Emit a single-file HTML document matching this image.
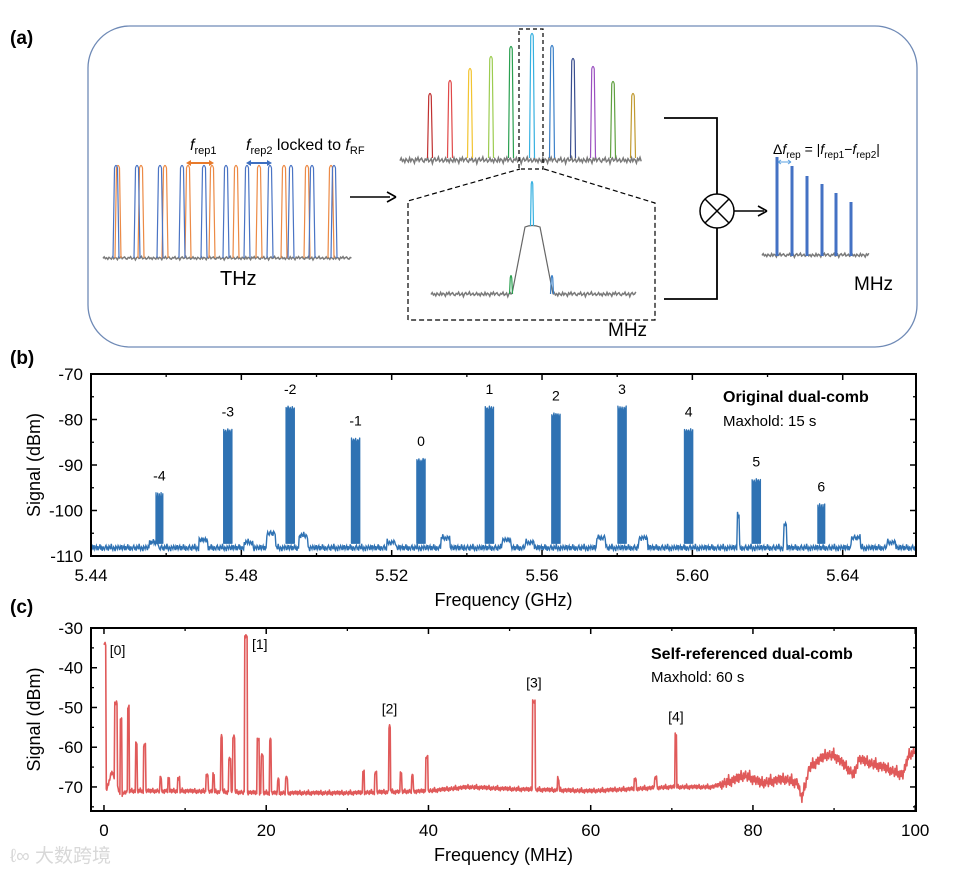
<!DOCTYPE html>
<html><head><meta charset="utf-8">
<style>
html,body{margin:0;padding:0;background:#fff;}
svg{display:block;font-family:"Liberation Sans","Noto Sans CJK SC",sans-serif;}
</style></head>
<body>
<svg id="fig" width="962" height="872" viewBox="0 0 962 872" xmlns="http://www.w3.org/2000/svg">
<text x="10" y="44" font-size="19" font-weight="bold">(a)</text>
<text x="10" y="364" font-size="19" font-weight="bold">(b)</text>
<text x="10" y="613" font-size="19" font-weight="bold">(c)</text>

<g id="pa">
<rect x="88" y="26" width="829" height="321" rx="42" ry="42" fill="none" stroke="#6f8ab6" stroke-width="1.3"/>
<g id="thz"></g>
<g id="topcomb"></g>
<g id="zoomg"></g>
<g id="outcomb"></g>
<text x="190" y="150" font-size="16"><tspan font-style="italic">f</tspan><tspan font-size="11" dy="4">rep1</tspan></text>
<text x="246" y="150" font-size="16"><tspan font-style="italic">f</tspan><tspan font-size="11" dy="4">rep2</tspan><tspan dy="-4"> locked to </tspan><tspan font-style="italic">f</tspan><tspan font-size="11" dy="4">RF</tspan></text>
<line x1="188" y1="163" x2="212" y2="163" stroke="#e87b2c" stroke-width="2"/>
<path d="M186 163 l5 -3 v6z M214 163 l-5 -3 v6z" fill="#e87b2c"/>
<line x1="248" y1="163" x2="270" y2="163" stroke="#3d6fc0" stroke-width="2"/>
<path d="M246 163 l5 -3 v6z M272 163 l-5 -3 v6z" fill="#3d6fc0"/>
<text x="220" y="285" font-size="20">THz</text>
<line x1="350" y1="197" x2="390" y2="197" stroke="#000" stroke-width="1.6"/>
<path d="M396 197 l-9 -5 M396 197 l-9 5" stroke="#000" stroke-width="1.6" fill="none"/>
<text x="608" y="336" font-size="19">MHz</text>
<path d="M664 118 H717 V194 M664 299 H717 V228" fill="none" stroke="#000" stroke-width="1.8"/>
<circle cx="717" cy="211" r="17" fill="#fff" stroke="#000" stroke-width="1.5"/>
<path d="M705 199 L729 223 M729 199 L705 223" stroke="#000" stroke-width="1.5"/>
<line x1="734" y1="211" x2="764" y2="211" stroke="#000" stroke-width="1.6"/>
<path d="M767 211 l-9 -5 M767 211 l-9 5" stroke="#000" stroke-width="1.6" fill="none"/>
<text x="773" y="154" font-size="14">Δ<tspan font-style="italic">f</tspan><tspan font-size="10" dy="4">rep</tspan><tspan dy="-4"> = |</tspan><tspan font-style="italic">f</tspan><tspan font-size="10" dy="4">rep1</tspan><tspan dy="-4">−</tspan><tspan font-style="italic">f</tspan><tspan font-size="10" dy="4">rep2</tspan><tspan dy="-4">|</tspan></text>
<text x="854" y="290" font-size="19">MHz</text>
</g>

<g id="pb"></g>
<g id="pc"></g>

<text x="10" y="862" font-size="19" fill="#d8d8d8">ℓ∞ 大数跨境</text>
</svg>
<script>
// ---------- Panel b data ----------
const bOrders = ["-4","-3","-2","-1","0","1","2","3","4","5","6"];
const bPeakFreq = [5.4582,5.4764,5.4930,5.5104,5.5278,5.5460,5.5637,5.5813,5.5990,5.6170,5.6343];
const bPeakTop = [-96,-82,-77,-84,-88.5,-77,-78.5,-77,-82,-93,-98.5];
const bBumpFreq = [5.4568,5.4700,5.4820,5.4880,5.4965,5.5200,5.5344,5.5505,5.5567,5.5757,5.5869,5.6122,5.6247,5.6435,5.6530];
const bBumpTop = [-107,-106.5,-107,-105,-105.5,-107,-106,-106.5,-107,-106,-106,-101,-103,-106,-107];
const bBaseline = -108.2;
const bXTicks = [5.44,5.48,5.52,5.56,5.60,5.64];
const bYTicks = [-70,-80,-90,-100,-110];

// ---------- Panel c data ----------
const cPeakFreq = [0.1,1.5,2.1,3.0,4.0,5.0,7.0,8.0,9.2,12.7,13.5,14.5,15.5,16.0,17.5,19.0,19.5,20.5,21.5,22.5,32.0,33.5,35.2,36.6,38.0,39.8,53.0,56.0,65.5,68.0,70.5];
const cPeakTop = [-34,-49,-53,-50,-59,-59.5,-67.5,-68,-68,-67,-67,-57.5,-63,-57.5,-32,-58,-62,-58,-68,-67.5,-66,-66.5,-55,-66.5,-67,-62.5,-48.5,-68,-68,-67.5,-57];
const cBaseFreq = [0,1,2,3,10,20,30,40,45,50,60,65,70,75,78,79,81,84,85.5,86,87,89,90,91.5,92.5,93,96,98.5,99.2,100];
const cBaseVal = [-73,-66,-72,-71,-71,-71.5,-71.5,-71,-70,-70.5,-71,-70.5,-70,-70,-68,-67,-69,-68,-69,-73,-65,-62,-62,-65,-67,-63,-65,-67,-62,-61];
const cXTicks = [0,20,40,60,80,100];
const cYTicks = [-30,-40,-50,-60,-70];

// fixed irregular noise texture
const ripple = [0.3,-0.9,0.6,-0.2,1.1,-0.6,0.2,0.9,-1.0,0.7,-0.5,0.0,1.4,-0.7,0.2,-1.2,0.6,-0.3,-0.8,0.5,1.0,-0.4,0.1,-1.1,0.8,0.3,-0.6,1.6,-0.2,-0.9,0.4,0.0,-1.3,0.7,0.2,-0.5,0.9];

const NS="http://www.w3.org/2000/svg";
function mk(tag, attrs, parent){const e=document.createElementNS(NS,tag);for(const k in attrs)e.setAttribute(k,attrs[k]);parent.appendChild(e);return e;}

function drawAxes(g, L,T,R,B, xs, ys, xt, yt, xMinor, yMinor, xTitle){
  const frame=mk('rect',{x:L,y:T,width:R-L,height:B-T,fill:'none',stroke:'#000','stroke-width':2},g);
  
  
  xt.forEach((v,i)=>{const x=xs(v);
    mk('line',{x1:x,y1:B,x2:x,y2:B-6,stroke:'#000','stroke-width':1.5},g);
    mk('line',{x1:x,y1:T,x2:x,y2:T+6,stroke:'#000','stroke-width':1.5},g);
    const t=mk('text',{x:x,y:B+25,'font-size':17,'text-anchor':'middle'},g);t.textContent=(typeof v==='number'&&v%1!==0)?v.toFixed(2):v;
    
    
    if(xMinor!==null){const xm=xs(v+xMinor); if(xm<R-2){mk('line',{x1:xm,y1:B,x2:xm,y2:B-3,stroke:'#000','stroke-width':1.3},g);mk('line',{x1:xm,y1:T,x2:xm,y2:T+3,stroke:'#000','stroke-width':1.3},g);}}
  });
  yt.forEach(v=>{const y=ys(v);
    mk('line',{x1:L,y1:y,x2:L+6,y2:y,stroke:'#000','stroke-width':1.5},g);
    mk('line',{x1:R,y1:y,x2:R-6,y2:y,stroke:'#000','stroke-width':1.5},g);
    const t=mk('text',{x:L-8,y:y+6,'font-size':17,'text-anchor':'end'},g);t.textContent=v;
    
    
    const ym=ys(v-yMinor); if(ym<B-2){mk('line',{x1:L,y1:ym,x2:L+3,y2:ym,stroke:'#000','stroke-width':1.3},g);mk('line',{x1:R,y1:ym,x2:R-3,y2:ym,stroke:'#000','stroke-width':1.3},g);}
  });
  const yl=mk('text',{x:0,y:0,'font-size':18,'text-anchor':'middle',transform:`translate(40,${(T+B)/2}) rotate(-90)`},g);yl.textContent='Signal (dBm)';
  
  
  const xl=mk('text',{x:(L+R)/2,y:B+50,'font-size':18,'text-anchor':'middle'},g);xl.textContent=xTitle;
  
  
}

// ---------- Panel b ----------
(function(){
  const g=document.getElementById('pb');
  const L=91,R=916,T=374,B=556, x0=5.44, x1=5.6595, y0=-110,y1=-70;
  const xs=v=>L+(v-x0)/(x1-x0)*(R-L);
  const ys=v=>B-(v-y0)/(y1-y0)*(B-T);
  let d=''; const step=0.0002; let i=0;
  for(let f=x0; f<=x1; f+=step,i++){
    let v=bBaseline+ripple[i%ripple.length]*0.55;
    bBumpFreq.forEach((bf,k)=>{const w=(bBumpTop[k]>-104)?0.00035:0.0012; if(Math.abs(f-bf)<w) v=Math.max(v,bBumpTop[k]+ripple[(i+3)%ripple.length]*0.5);});
    d+=(d?'L':'M')+xs(f).toFixed(1)+' '+ys(v).toFixed(1);
  }
  const bl=mk('path',{d:d,fill:'none',stroke:'#2f72b3','stroke-width':1.4},g);
  
  
  bPeakFreq.forEach((pf,k)=>{
    const w=(k===0||k===10)?0.0009:0.0011, top=bPeakTop[k];
    const xa=xs(pf-w), xb=xs(pf+w), yb=ys(bBaseline+1), yt=ys(top);
    let pd=`M${xa} ${yb}L${xa} ${yt+4}`;
    const n=8;
    for(let j=0;j<=n;j++){const xx=xa+(xb-xa)*j/n; const dip=(j%2)?(yt+(k===0||k===10?14:4+Math.abs(ripple[j+k])*3)):yt+Math.abs(ripple[j+2*k])*1.5; pd+=`L${xx.toFixed(1)} ${dip.toFixed(1)}`;}
    pd+=`L${xb} ${yb}Z`;
    const p=mk('path',{d:pd,fill:'#2f72b3',stroke:'#2f72b3','stroke-width':1.3,'stroke-linejoin':'round'},g);
    
    
    const t=mk('text',{x:xs(pf),y:yt-12,'font-size':14,'text-anchor':'middle'},g);t.textContent=bOrders[k];
    
    
  });
  drawAxes(g,L,T,R,B,xs,ys,bXTicks,bYTicks,0.02,5,'Frequency (GHz)');
  const a=mk('text',{x:723,y:402,'font-size':16,'font-weight':'bold'},g);a.textContent='Original dual-comb';
  
  
  const b=mk('text',{x:723,y:426,'font-size':15},g);b.textContent='Maxhold: 15 s';
  
  
})();

// ---------- Panel c ----------
(function(){
  const g=document.getElementById('pc');
  const L=91,R=916,T=628,B=811, x0=-1.6, x1=100.1, y0=-76.05,y1=-30;
  const xs=v=>L+(v-x0)/(x1-x0)*(R-L);
  const ys=v=>B-(v-y0)/(y1-y0)*(B-T);
  const base=f=>{for(let k=0;k<cBaseFreq.length-1;k++){if(f<=cBaseFreq[k+1]){const t=(f-cBaseFreq[k])/(cBaseFreq[k+1]-cBaseFreq[k]);return cBaseVal[k]+t*(cBaseVal[k+1]-cBaseVal[k]);}}return cBaseVal[cBaseVal.length-1];};
  let d=''; let i=0;
  for(let f=0; f<=100; f+=0.07,i++){
    const amp=f>76?1.1:0.45;
    let v=base(f)+ripple[i%ripple.length]*amp;
    cPeakFreq.forEach((pf,k)=>{const w=(cPeakTop[k]>-50)?0.17:0.12; if(Math.abs(f-pf)<=w) v=Math.max(v,cPeakTop[k]+ripple[(i+5)%ripple.length]*0.4);});
    d+=(d?'L':'M')+xs(f).toFixed(1)+' '+ys(v).toFixed(1);
  }
  const p=mk('path',{d:d,fill:'none',stroke:'#e05a5a','stroke-width':1.6,'stroke-linejoin':'round'},g);
  
  
  const labs=[["[0]",0.1,5,-1],["[1]",17.5,6,1],["[2]",35.2,0,-14],["[3]",53,0,-14],["[4]",70.5,0,-14]];
  labs.forEach(l=>{const k=cPeakFreq.indexOf(l[1]);const t=mk('text',{x:xs(l[1])+l[2],y:ys(cPeakTop[k])+l[3]+(l[3]>=-1?12:0),'font-size':14,'text-anchor':l[2]?'start':'middle'},g);t.textContent=l[0];
    
    });
  drawAxes(g,L,T,R,B,xs,ys,cXTicks,cYTicks,10,5,'Frequency (MHz)');
  const a=mk('text',{x:651,y:659,'font-size':16,'font-weight':'bold'},g);a.textContent='Self-referenced dual-comb';
  
  
  const b=mk('text',{x:651,y:682,'font-size':15},g);b.textContent='Maxhold: 60 s';
  
  
})();

// ---------- Panel a illustration ----------
function noise(x0,x1,y,g,amp){let d='';let i=0;for(let x=x0;x<=x1;x+=1.2,i++){d+=(d?'L':'M')+x.toFixed(1)+' '+(y+ripple[i%ripple.length]*amp).toFixed(1);}
  const p=mk('path',{d:d,fill:'none',stroke:'#7a7a7a','stroke-width':1.5},g);return p;}
function spike(x,top,base,col,g,w){const p=mk('path',{d:`M${x-w} ${base}L${x-w*0.5} ${top+3}Q${x} ${top-2} ${x+w*0.5} ${top+3}L${x+w} ${base}`,fill:'none',stroke:col,'stroke-width':1.2},g);return p;}
(function(){
  const g=document.getElementById('thz');
  const blue=[116,137,160,182,204,226,247,270,291,312,334];
  const orange=[118,141,165,188,212,236,259,284,307,331];
  noise(103,352,258,g,1.2);
  orange.forEach(x=>spike(x,165,258,'#ec8a45',g,3));
  blue.forEach(x=>spike(x,165,258,'#4a74c4',g,3));
  const g2=document.getElementById('topcomb');
  const px=[430,450,470,491,511,532,552,573,593,613,633];
  const pt=[93,80,68,56,46,33,45,58,66,81,93];
  const cols=['#c03030','#e04848','#f2c430','#9ccc50','#2aa050','#36b0e0','#3a80c8','#3a4e90','#9a50c0','#60a040','#c09a30'];
  noise(400,642,160,g2,2.2);
  px.forEach((x,k)=>spike(x,pt[k],158,cols[k],g2,2.5));
  const bx=mk('rect',{x:519,y:29,width:24,height:140,fill:'none',stroke:'#000','stroke-width':1.2,'stroke-dasharray':'4 3'},g2);
  
  
  const g3=document.getElementById('zoomg');
  mk('path',{d:'M408 320 V201 L520 169 M544 169 L655 203 V320 H408',fill:'none',stroke:'#000','stroke-width':1.2,'stroke-dasharray':'5 3'},g3);
  noise(431,512,294,g3,1.6); noise(553,636,294,g3,1.6);
  mk('path',{d:'M512 294 L525 227 Q532 224 540 227 L553 294',fill:'none',stroke:'#666','stroke-width':1.2},g3);
  spike(532,181,226,'#36b0e0',g3,1.5);
  spike(511,275,294,'#2aa050',g3,1.5);
  spike(552,275,294,'#3a80c8',g3,1.5);
  const g4=document.getElementById('outcomb');
  noise(762,870,255,g4,1.4);
  const ox=[777,792,807,822,836,851], ot=[157,166,176,184,193,202];
  ox.forEach((x,k)=>mk('line',{x1:x,y1:ot[k],x2:x,y2:256,stroke:'#4472c4','stroke-width':3},g4));
  mk('path',{d:'M778 162 H791 M778 162 l3 -2 M778 162 l3 2 M791 162 l-3 -2 M791 162 l-3 2',stroke:'#5aa0e0','stroke-width':1,fill:'none'},g4);
})();
</script>
</body></html>
